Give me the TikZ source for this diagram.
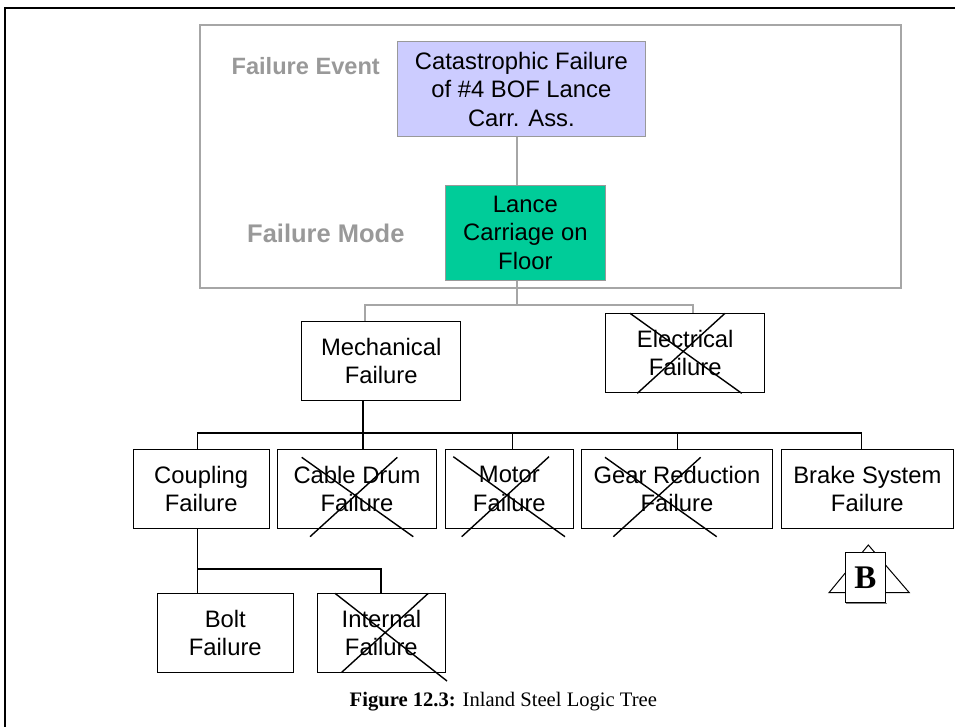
\documentclass[tikz,border=0pt]{standalone}
\usepackage{fontspec}
\newfontfamily\arialf{Liberation Sans}
\newfontfamily\timesf{Liberation Serif}
\definecolor{lav}{HTML}{CCCCFF}
\definecolor{teal2}{HTML}{00CC99}
\definecolor{gr}{HTML}{999999}
\definecolor{grl}{HTML}{A6A6A6}
\begin{document}
\begin{tikzpicture}[x=1pt,y=-1pt,
  box/.style={draw=black, line width=1pt, inner sep=0pt, align=center,
    font=\arialf\fontsize{23.8}{28.6}\selectfont},
  gbox/.style={box, draw=gr},
  glabel/.style={inner sep=0pt, text=gr, font=\arialf\bfseries\fontsize{25.5}{30}\selectfont},
  gconn/.style={draw=grl, line width=1.2pt},
  bconn/.style={draw=black, line width=1.3pt},
  xline/.style={draw=black, line width=1.4pt}]
\useasboundingbox (0,0) rectangle (955,726);
\clip (0,0) rectangle (955,726);
% outer frame
\draw[line width=2pt] (5,7.7) rectangle (1100,900);
% gray frame
\draw[draw=grl, line width=1.2pt] (200,25) rectangle (901,288);
% labels
\node[glabel, anchor=base east, font=\arialf\bfseries\fontsize{23.6}{28}\selectfont] (lev) at (380,74) {Failure Event};
\node[glabel, anchor=base west] (lmo) at (247,242.3) {Failure Mode};
% nodes
\node[gbox, fill=lav, minimum width=247.3, minimum height=95] (cat) at (521.35,89.2)
  {Catastrophic Failure\\of \#4 BOF Lance\\Carr. Ass.};
\node[gbox, fill=teal2, minimum width=159.3, minimum height=95] (lance) at (525.35,232.8)
  {Lance\\Carriage on\\Floor};
\node[box, minimum width=159.2, minimum height=78.3] (mech) at (381.2,360.85) {Mechanical\\Failure};
\node[box, minimum width=159, minimum height=79] (elec) at (685.2,352.8) {Electrical\\Failure};
\node[box, minimum width=135.7, minimum height=79] (coup) at (201.15,488.8) {Coupling\\Failure};
\node[box, minimum width=159.4, minimum height=79] (cable) at (357,488.8) {Cable Drum\\Failure};
\node[box, minimum width=127.3, minimum height=79] (motor) at (509.35,488.8) {Motor\\Failure};
\node[box, minimum width=190.6, minimum height=79] (gear) at (677,488.8) {Gear Reduction\\Failure};
\node[box, minimum width=171.3, minimum height=79] (brake) at (867.35,488.8) {Brake System\\Failure};
\node[box, minimum width=136, minimum height=79] (bolt) at (225.3,632.8) {Bolt\\Failure};
\node[box, minimum width=127.3, minimum height=79] (int) at (381.35,632.8) {Internal\\Failure};
% junction coordinates
\coordinate (g1) at (517,305);
\coordinate (gl) at (365,305);
\coordinate (gr) at (693,305);
\coordinate (b1) at (363,433);
\coordinate (bl) at (197.3,433);
\coordinate (bm) at (512.7,433);
\coordinate (bg) at (677.3,433);
\coordinate (br) at (861.7,433);
\coordinate (c1) at (197.3,569);
\coordinate (cr) at (381,569);
% gray connectors
\draw[gconn] (cat.south -| g1) -- (lance.north -| g1);
\draw[gconn] (lance.south -| g1) -- (g1);
\draw[gconn] (mech.north -| gl) -- (gl) -- (gr) -- (elec.north -| gr);
% black connectors
\draw[bconn] (mech.south -| b1) -- (cable.north -| b1);
\draw[bconn] (coup.north -| bl) -- (bl) -- (br) -- (brake.north -| br);
\draw[bconn] (bm) -- (motor.north -| bm);
\draw[bconn] (bg) -- (gear.north -| bg);
\draw[bconn] (coup.south -| c1) -- (c1) -- (cr) -- (int.north -| cr);
\draw[bconn] (c1) -- (bolt.north -| c1);
% crosses
\draw[xline] (630,313.3) -- (741.7,393.3) (725,313.3) -- (637.3,393.3);
\draw[xline] (301.7,457.3) -- (413.3,536.7) (397.3,457.3) -- (310,536.7);
\draw[xline] (453.3,456.7) -- (565,536.7) (549,456.7) -- (461.7,536.7);
\draw[xline] (605,457.3) -- (716.7,536.7) (700.7,457.3) -- (613.3,536.7);
\draw[xline] (335,593.3) -- (447,681) (428.3,593.3) -- (341.7,672.3);
% B symbol
\draw[line width=1pt] (868.3,545) -- (909.3,592.7) -- (829,592.7) -- cycle;
\draw[draw=gray, line width=1pt] (846,603.8) -- (886.5,603.8);
\node[draw=black, fill=white, line width=1pt, minimum width=40.7, minimum height=50.4, inner sep=0pt,
  font=\timesf\bfseries\fontsize{33}{36}\selectfont] (bsym) at (865.35,577.5) {B};
% caption
\node[anchor=base, inner sep=0pt, font=\timesf\fontsize{20.6}{24}\selectfont] (cap) at (503.35,706.7)
  {\textbf{Figure 12.3:} Inland Steel Logic Tree};
\end{tikzpicture}
\end{document}
